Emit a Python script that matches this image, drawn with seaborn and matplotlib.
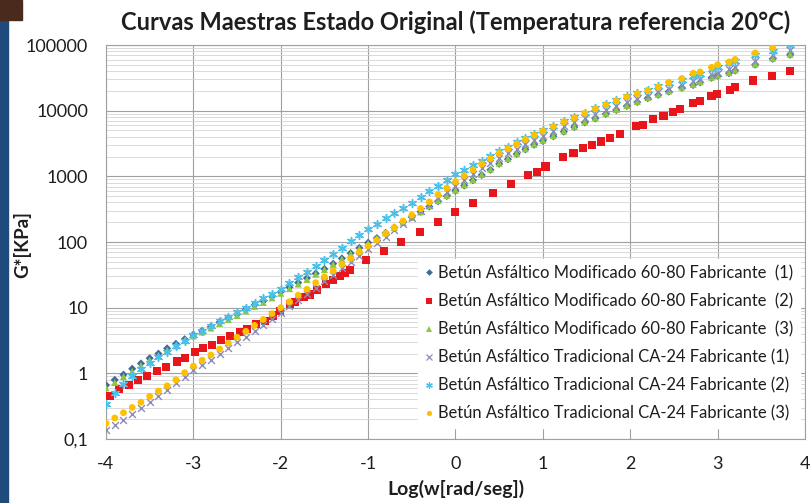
import numpy as np
import pandas as pd
import matplotlib
matplotlib.use("Agg")
import matplotlib.pyplot as plt
import seaborn as sns
from matplotlib.ticker import FixedLocator, LogLocator, NullFormatter
from matplotlib.lines import Line2D
from matplotlib.patches import Rectangle

# ---------------- data (log10 of G* in KPa) ----------------
x_dense = [-4.0, -3.9, -3.8, -3.7, -3.6, -3.5, -3.4, -3.3, -3.2, -3.1,
           -3.0, -2.9, -2.8, -2.7, -2.6, -2.5, -2.4, -2.3, -2.2, -2.1,
           -2.0, -1.9, -1.8, -1.7, -1.6, -1.5, -1.4, -1.3, -1.2, -1.1,
           -1.0, -0.9, -0.8, -0.7, -0.6, -0.5, -0.4, -0.3, -0.2, -0.1,
           0.0, 0.1, 0.2, 0.3, 0.4, 0.5, 0.6, 0.7, 0.8, 0.9,
           1.0, 1.12, 1.24, 1.36, 1.48, 1.6, 1.72, 1.84, 1.96, 2.08,
           2.2, 2.32, 2.44, 2.59, 2.72, 2.80, 2.93, 3.0, 3.13, 3.2,
           3.43, 3.63, 3.83]

x_mod2 = [-3.96, -3.85, -3.74, -3.63, -3.53, -3.42, -3.31, -3.19, -3.10, -2.98,
          -2.89, -2.79, -2.68, -2.58, -2.47, -2.39, -2.28, -2.18, -2.09, -2.01,
          -1.89, -1.84, -1.74, -1.67, -1.59, -1.48, -1.40, -1.32, -1.26, -1.21,
          -1.02, -0.82, -0.62, -0.41, -0.20, -0.01, 0.20, 0.43, 0.64, 0.83,
          0.93, 1.03, 1.23, 1.35, 1.46, 1.56, 1.67, 1.77, 1.88, 2.07,
          2.15, 2.26, 2.38, 2.49, 2.57, 2.72, 2.80, 2.93, 2.99, 3.14,
          3.20, 3.41, 3.62, 3.83]

log_mod1 = [-0.18, -0.10, -0.02, 0.07, 0.15, 0.23, 0.30, 0.38, 0.45, 0.52,
            0.59, 0.65, 0.71, 0.78, 0.84, 0.90, 0.97, 1.04, 1.10, 1.17,
            1.24, 1.31, 1.38, 1.45, 1.52, 1.59, 1.67, 1.75, 1.83, 1.91,
            1.99, 2.06, 2.14, 2.22, 2.30, 2.38, 2.46, 2.54, 2.62, 2.70,
            2.78, 2.86, 2.94, 3.02, 3.10, 3.19, 3.26, 3.34, 3.41, 3.48,
            3.54, 3.61, 3.68, 3.75, 3.82, 3.88, 3.95, 4.01, 4.07, 4.13,
            4.19, 4.24, 4.29, 4.35, 4.39, 4.43, 4.50, 4.53, 4.57, 4.61,
            4.70, 4.79, 4.85]

log_mod2 = [-0.34, -0.24, -0.18, -0.10, -0.04, 0.03, 0.10, 0.18, 0.23, 0.33,
            0.38, 0.43, 0.51, 0.57, 0.63, 0.68, 0.75, 0.80, 0.88, 0.95,
            1.06, 1.09, 1.16, 1.20, 1.27, 1.36, 1.42, 1.48, 1.53, 1.57,
            1.72, 1.86, 2.00, 2.15, 2.30, 2.45, 2.60, 2.74, 2.89, 3.02,
            3.07, 3.15, 3.30, 3.35, 3.43, 3.48, 3.53, 3.58, 3.65, 3.76,
            3.78, 3.87, 3.92, 3.98, 4.02, 4.12, 4.15, 4.23, 4.26, 4.32,
            4.36, 4.46, 4.53, 4.61]

log_mod3 = [-0.22, -0.14, -0.05, 0.03, 0.12, 0.20, 0.27, 0.35, 0.42, 0.50,
            0.57, 0.63, 0.69, 0.76, 0.82, 0.88, 0.95, 1.02, 1.08, 1.15,
            1.22, 1.29, 1.36, 1.43, 1.51, 1.58, 1.66, 1.74, 1.82, 1.90,
            1.98, 2.06, 2.14, 2.22, 2.30, 2.38, 2.46, 2.55, 2.63, 2.71,
            2.79, 2.87, 2.95, 3.03, 3.11, 3.20, 3.27, 3.35, 3.42, 3.49,
            3.55, 3.62, 3.69, 3.76, 3.83, 3.89, 3.96, 4.02, 4.08, 4.14,
            4.20, 4.25, 4.30, 4.36, 4.40, 4.44, 4.51, 4.54, 4.58, 4.62,
            4.71, 4.80, 4.86]

log_trad1 = [-0.86, -0.79, -0.71, -0.62, -0.53, -0.44, -0.35, -0.25, -0.15, -0.05,
             0.05, 0.13, 0.21, 0.30, 0.38, 0.47, 0.56, 0.65, 0.74, 0.83,
             0.92, 1.02, 1.11, 1.21, 1.30, 1.40, 1.50, 1.60, 1.70, 1.79,
             1.89, 1.99, 2.08, 2.18, 2.27, 2.37, 2.47, 2.57, 2.67, 2.76,
             2.86, 2.95, 3.04, 3.12, 3.20, 3.28, 3.35, 3.42, 3.49, 3.56,
             3.62, 3.69, 3.76, 3.82, 3.89, 3.95, 4.01, 4.07, 4.13, 4.18,
             4.23, 4.28, 4.33, 4.39, 4.45, 4.48, 4.54, 4.57, 4.63, 4.66,
             4.76, 4.85, 4.93]

log_trad2 = [-0.46, -0.30, -0.16, -0.04, 0.06, 0.16, 0.25, 0.33, 0.42, 0.50,
             0.58, 0.65, 0.72, 0.79, 0.86, 0.93, 1.00, 1.07, 1.14, 1.21,
             1.28, 1.37, 1.46, 1.54, 1.63, 1.72, 1.82, 1.91, 2.01, 2.10,
             2.20, 2.28, 2.36, 2.44, 2.52, 2.60, 2.69, 2.78, 2.86, 2.95,
             3.03, 3.10, 3.17, 3.24, 3.31, 3.38, 3.45, 3.52, 3.58, 3.64,
             3.70, 3.77, 3.84, 3.91, 3.97, 4.04, 4.10, 4.16, 4.22, 4.27,
             4.32, 4.37, 4.42, 4.47, 4.53, 4.56, 4.63, 4.66, 4.72, 4.76,
             4.85, 4.91, 5.00]

log_trad3 = [-0.76, -0.68, -0.60, -0.52, -0.44, -0.35, -0.27, -0.19, -0.10, 0.01,
             0.11, 0.20, 0.28, 0.37, 0.46, 0.55, 0.64, 0.73, 0.82, 0.91,
             1.00, 1.09, 1.19, 1.28, 1.38, 1.47, 1.56, 1.66, 1.75, 1.85,
             1.94, 2.03, 2.13, 2.22, 2.32, 2.41, 2.51, 2.61, 2.72, 2.82,
             2.92, 3.01, 3.10, 3.19, 3.27, 3.35, 3.42, 3.49, 3.56, 3.63,
             3.69, 3.76, 3.83, 3.89, 3.96, 4.03, 4.09, 4.15, 4.21, 4.26,
             4.31, 4.36, 4.43, 4.49, 4.57, 4.59, 4.66, 4.70, 4.74, 4.78,
             4.88, 4.96]

labels = ["Betún Asfáltico Modificado 60-80 Fabricante  (1)",
          "Betún Asfáltico Modificado 60-80 Fabricante  (2)",
          "Betún Asfáltico Modificado 60-80 Fabricante  (3)",
          "Betún Asfáltico Tradicional CA-24 Fabricante (1)",
          "Betún Asfáltico Tradicional CA-24 Fabricante (2)",
          "Betún Asfáltico Tradicional CA-24 Fabricante (3)"]

y_tick_vals = [0.1, 1, 10, 100, 1000, 10000, 100000]
y_tick_labels = ["0,1", "1", "10", "100", "1000", "10000", "100000"]
x_tick_vals = [-4, -3, -2, -1, 0, 1, 2, 3, 4]
x_tick_labels = ["-4", "-3", "-2", "-1", "0", "1", "2", "3", "4"]

# ---------------- styling ----------------
sns.set_theme(style="white")
plt.rcParams["font.family"] = ["Lato", "DejaVu Sans"]
plt.rcParams["axes.unicode_minus"] = False
txt = "#1E1E1E"

fig = plt.figure(figsize=(8.12, 5.03), dpi=100)
fig.patch.set_facecolor("white")
W, H = 812, 503
ax = fig.add_axes([106 / W, 1 - 439 / H, 699 / W, 394 / H])

series = [
    (x_dense, log_mod1, "D", "#3F6A9E", 17, 0.0, 3),
    (x_mod2, log_mod2, "s", "#E8161B", 34, 0.0, 4),
    (x_dense, log_mod3, "^", "#8DC641", 26, 0.0, 5),
    (x_dense, log_trad1, "x", "#8C8CB8", 24, 1.0, 6),
    (x_dense, log_trad2, (6, 2, 0), "#4CC0E8", 32, 1.1, 7),
    (x_dense[:len(log_trad3)], log_trad3, "o", "#FFC000", 24, 0.0, 8),
]

for (xs, lg, mk, col, s, lw, z), lab in zip(series, labels):
    df = pd.DataFrame({"x": xs, "G": np.power(10.0, lg)})
    sns.scatterplot(data=df, x="x", y="G", ax=ax, marker=mk, color=col, s=s,
                    linewidth=lw, edgecolor=col if lw > 0 else "none",
                    legend=False, zorder=z)

ax.set_yscale("log")
ax.set_xlim(-4, 4)
ax.set_ylim(0.1, 100000)
ax.yaxis.set_major_locator(FixedLocator(y_tick_vals))
ax.set_yticklabels(y_tick_labels)
ax.yaxis.set_minor_locator(LogLocator(base=10, subs=range(2, 10), numticks=20))
ax.yaxis.set_minor_formatter(NullFormatter())
ax.set_xticks(x_tick_vals)
ax.set_xticklabels(x_tick_labels)
ax.set_xlabel("")
ax.set_ylabel("")

ax.grid(which="major", axis="both", color="#A0A0A0", lw=0.8, zorder=0)
ax.grid(which="minor", axis="y", color="#D4D4D4", lw=0.6, zorder=0)
ax.set_axisbelow(True)
ax.tick_params(axis="both", which="both", length=0, labelsize=13, labelcolor=txt)
ax.tick_params(axis="y", pad=13)
ax.tick_params(axis="x", pad=12)
for sp in ax.spines.values():
    sp.set_color("#A0A0A0")
    sp.set_linewidth(0.8)

# legend
handles = [
    Line2D([], [], ls="none", marker="D", ms=3.4, color="#3F6A9E", mew=0),
    Line2D([], [], ls="none", marker="s", ms=4.4, color="#E8161B", mew=0),
    Line2D([], [], ls="none", marker="^", ms=4.2, color="#8DC641", mew=0),
    Line2D([], [], ls="none", marker="x", ms=4.2, color="#8C8CB8", mew=0.9),
    Line2D([], [], ls="none", marker=(6, 2, 0), ms=4.7, color="#4CC0E8", mew=0.9),
    Line2D([], [], ls="none", marker="o", ms=3.8, color="#FFC000", mew=0),
]
leg = ax.legend(handles, labels, loc="lower right",
                bbox_to_anchor=((800 - 106) / 699, (439 - 428) / 394),
                frameon=True, facecolor="white", edgecolor="white", framealpha=1,
                fancybox=False, fontsize=11.9, labelspacing=0.72, borderpad=0.4,
                handlelength=0.5, handletextpad=0.3, borderaxespad=0)
for t in leg.get_texts():
    t.set_color(txt)
leg.set_zorder(20)

# titles / labels
fig.text(455.5 / W, 1 - 22 / H,
         "Curvas Maestras Estado Original (Temperatura referencia 20°C)",
         ha="center", va="center", fontsize=17, fontweight="bold", color=txt)
fig.text(455.5 / W, 1 - 489 / H, "Log(w[rad/seg])", ha="center", va="center",
         fontsize=14, fontweight="bold", color=txt)
fig.text(22 / W, 1 - 245 / H, "G*[KPa]", ha="center", va="center", rotation=90,
         fontsize=13.5, fontweight="bold", color=txt)

# slide edge
fig.patches.append(Rectangle((0, 0), 8 / W, 1, transform=fig.transFigure,
                             color="#1F4A7C", zorder=0))
fig.patches.append(Rectangle((0, 1 - 20 / H), 22 / W, 20 / H, transform=fig.transFigure,
                             color="#4A2A1C", zorder=0))

fig.savefig("out.png", dpi=100, facecolor="white")
